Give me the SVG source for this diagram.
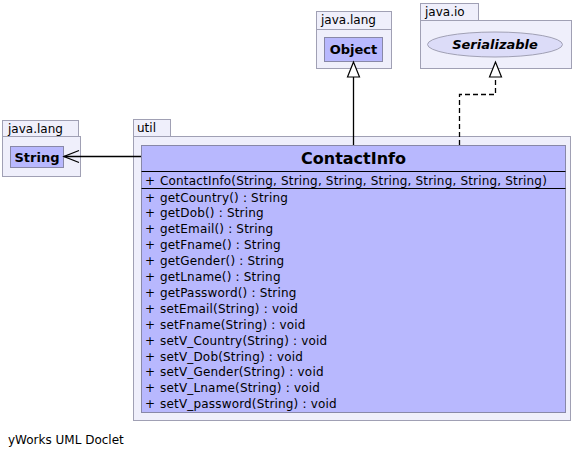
<svg xmlns="http://www.w3.org/2000/svg" width="576" height="459" viewBox="0 0 576 459">
<style>
.pkg{fill:#efeffb;stroke:#a0a0b4;stroke-width:1}
.cls{fill:#b8b8fe;stroke:#8888a8;stroke-width:1}
.t{font-family:"DejaVu Sans",sans-serif;font-size:12px;fill:#000}
.m text{letter-spacing:0.18px}
.b{font-family:"DejaVu Sans",sans-serif;font-weight:bold;fill:#000}
.sep{stroke:#000;stroke-width:1}
.edge{stroke:#000;stroke-width:1.3;fill:none}
</style>
<rect width="576" height="459" fill="#fff"/>
<g id="pkg-util">
<rect class="pkg" x="133.5" y="119.5" width="37" height="17"/>
<rect class="pkg" x="133.5" y="136.5" width="437" height="284"/>
<text class="t" x="137" y="132">util</text>
</g>
<g id="pkg-java-lang-left">
<rect class="pkg" x="2.5" y="120.5" width="76" height="16"/>
<rect class="pkg" x="2.5" y="136.5" width="78" height="40"/>
<text class="t" x="8" y="133">java.lang</text>
</g>
<g id="String">
<rect class="cls" x="10.5" y="146.5" width="53" height="21"/>
<text class="b" x="37" y="161.5" font-size="13" text-anchor="middle">String</text>
</g>
<g id="pkg-java-lang-top">
<rect class="pkg" x="316.5" y="11.5" width="75" height="18"/>
<rect class="pkg" x="316.5" y="29.5" width="75" height="39"/>
<text class="t" x="321" y="24">java.lang</text>
</g>
<g id="Object">
<rect class="cls" x="324.5" y="37.5" width="58" height="24"/>
<text class="b" x="353.5" y="54" font-size="13" text-anchor="middle">Object</text>
</g>
<g id="pkg-java-io">
<rect class="pkg" x="420.5" y="3.5" width="58" height="17"/>
<rect class="pkg" x="420.5" y="20.5" width="151" height="48"/>
<text class="t" x="425" y="16">java.io</text>
</g>
<g id="Serializable">
<ellipse cx="495" cy="44.5" rx="67.5" ry="12.5" fill="#dcdcf8" stroke="#a0a0b4"/>
<text class="b" x="495" y="49" font-size="13" font-style="italic" text-anchor="middle">Serializable</text>
</g>
<g id="ContactInfo">
<rect class="cls" x="141.5" y="145.5" width="424" height="267"/>
<line class="sep" x1="141.5" y1="171.5" x2="565.5" y2="171.5"/>
<line class="sep" x1="141.5" y1="188.5" x2="565.5" y2="188.5"/>
<text class="b" x="353.5" y="164" font-size="16" text-anchor="middle">ContactInfo</text>
<g class="t m">
<text x="145" y="185">+</text><text x="160" y="185" textLength="387" lengthAdjust="spacing">ContactInfo(String, String, String, String, String, String, String)</text>
<text x="145" y="201.5">+</text><text x="160" y="201.5">getCountry() : String</text>
<text x="145" y="217.4">+</text><text x="160" y="217.4">getDob() : String</text>
<text x="145" y="233.3">+</text><text x="160" y="233.3">getEmail() : String</text>
<text x="145" y="249.2">+</text><text x="160" y="249.2">getFname() : String</text>
<text x="145" y="265.1">+</text><text x="160" y="265.1">getGender() : String</text>
<text x="145" y="281">+</text><text x="160" y="281">getLname() : String</text>
<text x="145" y="296.9">+</text><text x="160" y="296.9">getPassword() : String</text>
<text x="145" y="312.8">+</text><text x="160" y="312.8">setEmail(String) : void</text>
<text x="145" y="328.7">+</text><text x="160" y="328.7">setFname(String) : void</text>
<text x="145" y="344.6">+</text><text x="160" y="344.6">setV_Country(String) : void</text>
<text x="145" y="360.5">+</text><text x="160" y="360.5">setV_Dob(String) : void</text>
<text x="145" y="376.4">+</text><text x="160" y="376.4">setV_Gender(String) : void</text>
<text x="145" y="392.3">+</text><text x="160" y="392.3">setV_Lname(String) : void</text>
<text x="145" y="408.2">+</text><text x="160" y="408.2">setV_password(String) : void</text>
</g>
</g>
<g id="connectors">
<line class="edge" x1="141" y1="156.5" x2="64" y2="156.5"/>
<polyline class="edge" points="79,150.5 64,156.5 79,162.5"/>
<line class="edge" x1="353.5" y1="145" x2="353.5" y2="77"/>
<polygon points="353.5,62 347.5,77 359.5,77" fill="#fff" stroke="#000" stroke-width="1.2"/>
<polyline class="edge" points="459.5,145 459.5,94.5 495.5,94.5 495.5,77" stroke-dasharray="5,3"/>
<polygon points="495.5,62 489.5,77 501.5,77" fill="#fff" stroke="#000" stroke-width="1.2"/>
</g>
<text class="t" x="8" y="444">yWorks UML Doclet</text>
</svg>
